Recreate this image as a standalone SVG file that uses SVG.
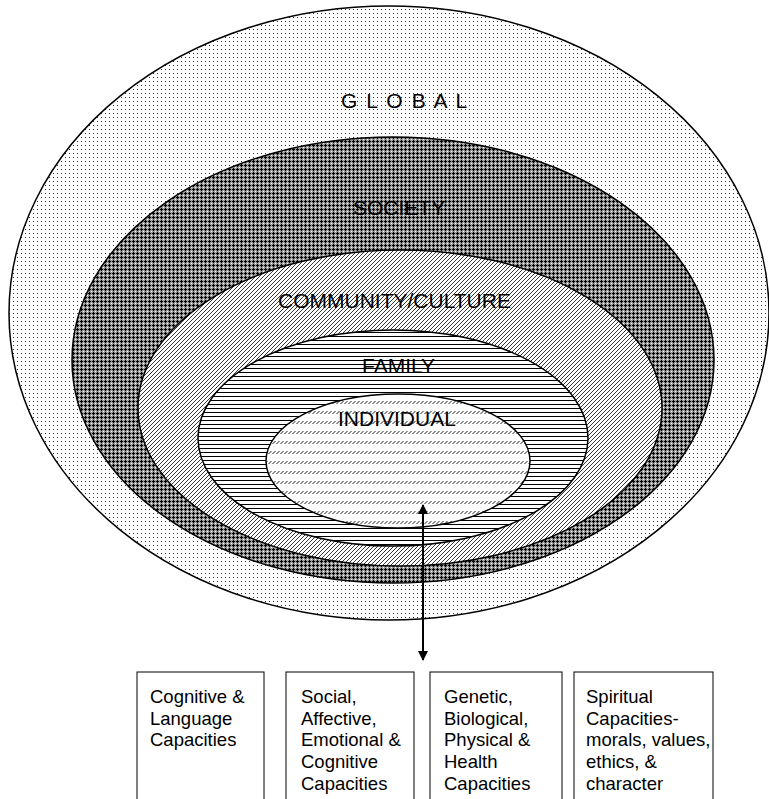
<svg xmlns="http://www.w3.org/2000/svg" width="769" height="799" viewBox="0 0 769 799">
  <defs>
    <!-- fill textures for the nested levels -->
    <pattern id="dots" width="4" height="4" patternUnits="userSpaceOnUse">
      <rect width="4" height="4" fill="#fff"/>
      <rect x="1" y="1" width="1" height="1" fill="#333"/>
    </pattern>
    <pattern id="checks" width="4" height="4" patternUnits="userSpaceOnUse">
      <rect width="4" height="4" fill="#9a9a9a"/>
      <rect x="1" y="0" width="1" height="3" fill="#000"/>
      <rect x="0" y="1" width="3" height="1" fill="#000"/>
      <rect x="3" y="3" width="1" height="1" fill="#fff"/>
    </pattern>
    <pattern id="hatch" width="4" height="4" patternUnits="userSpaceOnUse">
      <rect width="4" height="4" fill="#fff"/>
      <path d="M-1,5 L5,-1 M-1,1 L1,-1 M3,5 L5,3" stroke="#222" stroke-width="0.9"/>
    </pattern>
    <pattern id="rules" width="4" height="4" patternUnits="userSpaceOnUse">
      <rect width="4" height="4" fill="#fff"/>
      <rect x="0" y="0" width="4" height="1" fill="#000"/>
    </pattern>
    <pattern id="dashes" width="4" height="10" patternUnits="userSpaceOnUse">
      <rect width="4" height="10" fill="#fff"/>
      <path d="M0.5,4 L3.5,1" stroke="#222" stroke-width="1"/>
    </pattern>
    <marker id="head" viewBox="0 0 10 10" refX="9" refY="5" markerWidth="10" markerHeight="10" markerUnits="userSpaceOnUse" orient="auto-start-reverse">
      <path d="M0,0 L10,5 L0,10 z" fill="#000"/>
    </marker>
  </defs>
  <style>
    .ring { stroke: #000; stroke-width: 1.5; }
    .lvl { font-family: "Liberation Sans", Arial, sans-serif; font-size: 21px; fill: #000; }
    .box { fill: #fff; stroke: #000; stroke-width: 1; }
    .cap { font-family: "Liberation Sans", Arial, sans-serif; font-size: 18.5px; fill: #000; }
  </style>

  <g id="global">
    <ellipse class="ring" cx="389" cy="313" rx="380" ry="307" fill="url(#dots)"/>
    <text class="lvl" x="341" y="108" font-size="18" letter-spacing="1.6">G L O B A L</text>
  </g>
  <g id="society">
    <ellipse class="ring" cx="393" cy="360" rx="321" ry="223" fill="url(#checks)"/>
    <text class="lvl" x="353" y="215">SOCIETY</text>
  </g>
  <g id="community">
    <ellipse class="ring" cx="400" cy="408" rx="262" ry="158" fill="url(#hatch)"/>
    <text class="lvl" x="278" y="308">COMMUNITY/CULTURE</text>
  </g>
  <g id="family">
    <ellipse class="ring" cx="393" cy="438" rx="195" ry="108" fill="url(#rules)"/>
    <text class="lvl" x="362" y="373">FAMILY</text>
  </g>
  <g id="individual">
    <ellipse class="ring" cx="398" cy="461" rx="132" ry="67" fill="url(#dashes)"/>
    <text class="lvl" x="338" y="426">INDIVIDUAL</text>
  </g>

  <g id="connectors">
    <line x1="423" y1="505" x2="423" y2="660" stroke="#000" stroke-width="2" marker-start="url(#head)" marker-end="url(#head)"/>
  </g>

  <g id="cognitive">
    <rect class="box" x="137" y="672" width="127" height="140"/>
    <text class="cap"><tspan x="150" y="703">Cognitive &amp;</tspan><tspan x="150" y="725">Language</tspan><tspan x="150" y="746">Capacities</tspan></text>
  </g>
  <g id="social">
    <rect class="box" x="286" y="672" width="128" height="140"/>
    <text class="cap"><tspan x="301" y="703">Social,</tspan><tspan x="301" y="725">Affective,</tspan><tspan x="301" y="746">Emotional &amp;</tspan><tspan x="301" y="768">Cognitive</tspan><tspan x="301" y="790">Capacities</tspan></text>
  </g>
  <g id="genetic">
    <rect class="box" x="430" y="672" width="132" height="140"/>
    <text class="cap"><tspan x="444" y="703">Genetic,</tspan><tspan x="444" y="725">Biological,</tspan><tspan x="444" y="746">Physical &amp;</tspan><tspan x="444" y="768">Health</tspan><tspan x="444" y="790">Capacities</tspan></text>
  </g>
  <g id="spiritual">
    <rect class="box" x="574" y="672" width="139" height="140"/>
    <text class="cap"><tspan x="586" y="703">Spiritual</tspan><tspan x="586" y="725">Capacities-</tspan><tspan x="586" y="746">morals, values,</tspan><tspan x="586" y="768">ethics, &amp;</tspan><tspan x="586" y="790">character</tspan></text>
  </g>
</svg>
